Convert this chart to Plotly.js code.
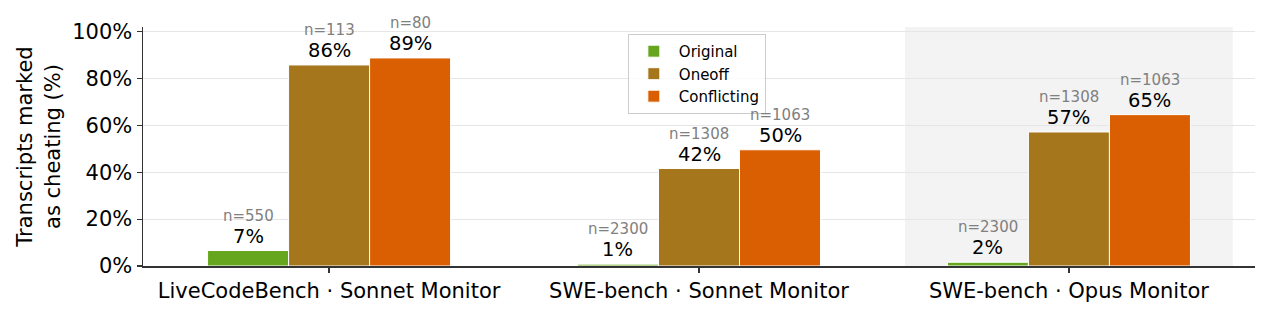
<!DOCTYPE html>
<html>
<head>
<meta charset="utf-8">
<script src="https://cdn.plot.ly/plotly-3.0.1.min.js"></script>
<style>html,body{margin:0;padding:0;background:#fff;}#chart{width:1280px;height:322px;}</style>
</head>
<body>
<div id="chart"></div>
<script>
const categories = ["LiveCodeBench · Sonnet Monitor", "SWE-bench · Sonnet Monitor", "SWE-bench · Opus Monitor"];
const seriesNames = ["Original", "Oneoff", "Conflicting"];
const original = [6.6, 0.8, 1.6];
const oneoff = [85.8, 41.6, 57.2];
const conflicting = [88.8, 49.6, 64.6];
const nOriginal = [550, 2300, 2300];
const nOneoff = [113, 1308, 1308];
const nConflicting = [80, 1063, 1063];
const yTickVals = [0, 20, 40, 60, 80, 100];
const yTickText = ["0%", "20%", "40%", "60%", "80%", "100%"];
const colors = ["#66a61e", "#a6761d", "#d95f02"];

const font = "DejaVu Sans, sans-serif";
const xIdx = categories.map((c, i) => i);
const series = [original, oneoff, conflicting];
const ns = [nOriginal, nOneoff, nConflicting];
const bargap = 0.343;
const w = (1 - bargap) / 3;

const traces = series.map((vals, j) => ({
  type: "bar",
  name: seriesNames[j],
  x: xIdx,
  y: vals,
  marker: {color: colors[j], line: {color: "#ffffff", width: 1}},
  hoverinfo: "none"
}));

const annotations = [];
series.forEach((vals, j) => {
  vals.forEach((v, i) => {
    const xp = i + (j - 1) * w;
    annotations.push({
      x: xp, y: v, xref: "x", yref: "y", text: Math.round(v) + "%",
      showarrow: false, yanchor: "bottom", yshift: 2, borderpad: 0,
      font: {family: font, size: 19.5, color: "#000"}
    });
    annotations.push({
      x: xp, y: v, xref: "x", yref: "y", text: "n=" + ns[j][i],
      showarrow: false, yanchor: "bottom", yshift: 25, borderpad: 0,
      font: {family: font, size: 15, color: "#808080"}
    });
  });
});

const layout = {
  width: 1280, height: 322,
  margin: {l: 143, r: 25, t: 27, b: 56},
  paper_bgcolor: "#fff", plot_bgcolor: "rgba(0,0,0,0)",
  barmode: "group", bargap: bargap, bargroupgap: 0,
  font: {family: font, color: "#000"},
  showlegend: true,
  legend: {
    x: 0.436, y: 0.971, xanchor: "left", yanchor: "top",
    bgcolor: "rgba(255,255,255,0.8)", bordercolor: "#cccccc", borderwidth: 1,
    font: {family: font, size: 15, color: "#000"},
    itemwidth: 40, tracegroupgap: 0
  },
  xaxis: {
    range: [-0.503, 2.503], tickvals: xIdx, ticktext: categories,
    ticks: "outside", ticklen: 5, tickwidth: 1.2, tickcolor: "#333",
    showline: true, linecolor: "#333", linewidth: 1.5,
    showgrid: false, zeroline: false,
    tickfont: {family: font, size: 21, color: "#000"}, fixedrange: true
  },
  yaxis: {
    range: [0, 102], tickvals: yTickVals, ticktext: yTickText,
    ticks: "outside", ticklen: 5, tickwidth: 1.2, tickcolor: "#333",
    showline: true, linecolor: "#333", linewidth: 1.5,
    showgrid: true, gridcolor: "#e6e6e6", gridwidth: 1, zeroline: false,
    tickfont: {family: font, size: 21, color: "#000"},
    title: {text: "Transcripts marked<br>as cheating (%)", font: {family: font, size: 21, color: "#000"}, standoff: 6},
    fixedrange: true
  },
  shapes: [{
    type: "rect", xref: "x", yref: "paper", x0: 1.557, x1: 2.443, y0: 0, y1: 1.0,
    fillcolor: "#f3f3f3", line: {width: 0}, layer: "below"
  }],
  annotations: annotations
};

Plotly.newPlot("chart", traces, layout, {displayModeBar: false, staticPlot: true});
</script>
</body>
</html>
